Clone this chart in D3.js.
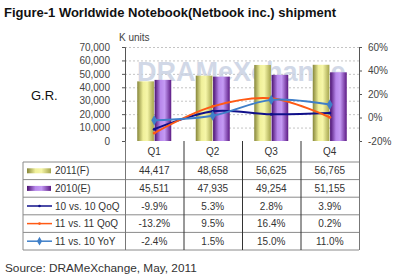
<!DOCTYPE html>
<html>
<head>
<meta charset="utf-8">
<script src="https://cdn.jsdelivr.net/npm/d3@7"></script>
<style>
  body { margin: 0; background: #fff; }
  svg { display: block; font-family: Arial, "Liberation Sans", sans-serif; }
</style>
</head>
<body>
<div id="chart"></div>
<script>
// data
var quarters = ["Q1", "Q2", "Q3", "Q4"];
var ship2011 = [44417, 48658, 56625, 56765];
var ship2010 = [45511, 47935, 49254, 51155];
var qoq10 = [-9.9, 5.3, 2.8, 3.9];
var qoq11 = [-13.2, 9.5, 16.4, 0.2];
var yoy11 = [-2.4, 1.5, 15.0, 11.0];
var leftTicks = [0, 10000, 20000, 30000, 40000, 50000, 60000, 70000];
var rightTicks = [-20, 0, 20, 40, 60];

var barSeries = [
  { name: "2011(F)", values: ship2011, grad: "gYellow" },
  { name: "2010(E)", values: ship2010, grad: "gPurple" }
];
var lineSeries = [
  { name: "10 vs. 10 QoQ", values: qoq10, color: "#10108a", marker: "dot" },
  { name: "11 vs. 11 QoQ", values: qoq11, color: "#ff5a14", marker: "dot" },
  { name: "11 vs. 10 YoY", values: yoy11, color: "#3f7fc8", marker: "diamond" }
];

var W = 400, H = 280;
var plotL = 125, plotR = 359, plotT = 47, plotB = 141;

var svg = d3.select("#chart").append("svg")
  .attr("width", W).attr("height", H);

var defs = svg.append("defs");
function hgrad(id, stops) {
  var g = defs.append("linearGradient").attr("id", id)
    .attr("x1", "0%").attr("x2", "100%").attr("y1", "0%").attr("y2", "0%");
  stops.forEach(function (s) {
    g.append("stop").attr("offset", s[0]).attr("stop-color", s[1]);
  });
}
hgrad("gYellow", [["0%", "#86863a"], ["35%", "#f0f09a"], ["60%", "#f6f6a8"], ["100%", "#a4a44c"]]);
hgrad("gPurple", [["0%", "#4a1070"], ["35%", "#b888ec"], ["60%", "#c49af4"], ["100%", "#5c1a84"]]);

var x = d3.scaleBand().domain(quarters).range([plotL, plotR]).padding(0);
var xs = d3.scaleBand().domain(barSeries.map(function (d) { return d.name; }))
  .range([0, 34]).paddingInner(0.04);
var y = d3.scaleLinear().domain([0, 70000]).range([plotB, plotT]);
var y2 = d3.scaleLinear().domain([-20, 60]).range([plotB, plotT]);

// title
svg.append("text").attr("x", 4).attr("y", 17)
  .attr("font-size", 13).attr("font-weight", "bold").attr("fill", "#111")
  .text("Figure-1 Worldwide Notebook(Netbook inc.) shipment");

svg.append("text").attr("x", 119).attr("y", 41)
  .attr("font-size", 10).attr("fill", "#444").text("K units");

svg.append("text").attr("x", 31).attr("y", 100)
  .attr("font-size", 13).attr("fill", "#111").text("G.R.");

// gridlines
svg.append("g").selectAll("line").data(leftTicks.slice(1)).enter().append("line")
  .attr("x1", plotL).attr("x2", plotR)
  .attr("y1", function (d) { return y(d) + 0.5; })
  .attr("y2", function (d) { return y(d) + 0.5; })
  .attr("stroke", "#c4c4c4").attr("stroke-dasharray", "2,2");

// watermark
svg.append("text").attr("x", 137).attr("y", 81)
  .attr("font-size", 27).attr("font-weight", "bold")
  .attr("fill", "#c9d2e3").attr("opacity", 0.85)
  .text("DRAMeXchange");

// bars
var bars = svg.append("g");
barSeries.forEach(function (s) {
  bars.selectAll(null).data(s.values).enter().append("rect")
    .attr("x", function (d, i) { return x(quarters[i]) + (x.bandwidth() - 34) / 2 + xs(s.name); })
    .attr("y", function (d) { return y(d); })
    .attr("width", xs.bandwidth())
    .attr("height", function (d) { return plotB - y(d); })
    .attr("fill", "url(#" + s.grad + ")");
});

// axes
var axL = svg.append("g").attr("transform", "translate(" + plotL + ",0)")
  .call(d3.axisLeft(y).tickValues(leftTicks).tickSize(3).tickPadding(12)
    .tickFormat(d3.format(",")));
var axR = svg.append("g").attr("transform", "translate(" + plotR + ",0)")
  .call(d3.axisRight(y2).tickValues(rightTicks).tickSize(3).tickPadding(6)
    .tickFormat(function (d) { return d + "%"; }));
[axL, axR].forEach(function (a) {
  a.select(".domain").attr("stroke", "#555");
  a.selectAll(".tick line").attr("stroke", "#555");
  a.selectAll("text").attr("font-size", 10).attr("fill", "#444")
    .attr("font-family", "Arial, 'Liberation Sans', sans-serif");
});

// lines
var line = d3.line()
  .x(function (d, i) { return x(quarters[i]) + x.bandwidth() / 2; })
  .y(function (d) { return y2(d); })
  .curve(d3.curveCatmullRom.alpha(0.5));

lineSeries.forEach(function (s) {
  svg.append("path").datum(s.values).attr("d", line)
    .attr("fill", "none").attr("stroke", s.color).attr("stroke-width", 2);
  var pts = svg.append("g").selectAll(null).data(s.values).enter();
  if (s.marker === "diamond") {
    pts.append("path")
      .attr("d", d3.symbol(d3.symbolDiamond, 30))
      .attr("transform", function (d, i) {
        return "translate(" + (x(quarters[i]) + x.bandwidth() / 2) + "," + y2(d) + ")";
      })
      .attr("fill", s.color);
  } else {
    pts.append("circle")
      .attr("cx", function (d, i) { return x(quarters[i]) + x.bandwidth() / 2; })
      .attr("cy", function (d) { return y2(d); })
      .attr("r", 1.5).attr("fill", s.color);
  }
});

// data table
var tblL = 23, rowTop = 162, rowH = 17.6;
var rows = barSeries.map(function (s) { return { s: s, type: "bar", cells: s.values.map(d3.format(",")) }; })
  .concat(lineSeries.map(function (s) { return { s: s, type: "line", cells: s.values.map(function (v) { return v.toFixed(1) + "%"; }) }; }));
var tbl = svg.append("g");

// quarter header labels
tbl.selectAll(null).data(quarters).enter().append("text")
  .attr("x", function (d) { return x(d) + x.bandwidth() / 2; })
  .attr("y", 155).attr("text-anchor", "middle")
  .attr("font-size", 10).attr("fill", "#333").text(function (d) { return d; });

// horizontal rules
var rowEdges = d3.range(rows.length + 1).map(function (i) { return rowTop + i * rowH; });
tbl.selectAll(null).data(rowEdges).enter().append("line")
  .attr("x1", tblL).attr("x2", plotR)
  .attr("y1", function (d) { return d; }).attr("y2", function (d) { return d; })
  .attr("stroke", "#8a8a8a").attr("stroke-width", 1);

// vertical rules
tbl.append("line").attr("x1", tblL).attr("x2", tblL)
  .attr("y1", rowTop).attr("y2", rowEdges[rows.length]).attr("stroke", "#8a8a8a");
var vx = quarters.map(function (q) { return x(q); }).concat([plotR]);
tbl.selectAll(null).data(vx).enter().append("line")
  .attr("x1", function (d) { return d + 0.5; }).attr("x2", function (d) { return d + 0.5; })
  .attr("y1", plotB).attr("y2", rowEdges[rows.length])
  .attr("stroke", function (d, i) { return i === 0 || i === vx.length - 1 ? "#777" : "#333"; });

rows.forEach(function (r, ri) {
  var cy = rowTop + ri * rowH + rowH / 2;
  if (r.type === "bar") {
    tbl.append("rect").attr("x", 27).attr("y", cy - 2.5).attr("width", 24).attr("height", 5)
      .attr("fill", "url(#" + r.s.grad + ")");
  } else {
    tbl.append("line").attr("x1", 27).attr("x2", 52).attr("y1", cy).attr("y2", cy)
      .attr("stroke", r.s.color).attr("stroke-width", 1.5);
    if (r.s.marker === "diamond") {
      tbl.append("path").attr("d", d3.symbol(d3.symbolDiamond, 22))
        .attr("transform", "translate(39.5," + cy + ")").attr("fill", r.s.color);
    } else {
      tbl.append("circle").attr("cx", 39.5).attr("cy", cy).attr("r", 1.3).attr("fill", r.s.color);
    }
  }
  tbl.append("text").attr("x", 55).attr("y", cy + 3.5)
    .attr("font-size", 10).attr("fill", "#333").text(r.s.name);
  tbl.selectAll(null).data(r.cells).enter().append("text")
    .attr("x", function (d, i) { return x(quarters[i]) + x.bandwidth() / 2; })
    .attr("y", cy + 3.5).attr("text-anchor", "middle")
    .attr("font-size", 10).attr("fill", "#333").text(function (d) { return d; });
});

svg.append("text").attr("x", 5).attr("y", 272)
  .attr("font-size", 11.8).attr("fill", "#333").text("Source: DRAMeXchange, May, 2011");
</script>
</body>
</html>
